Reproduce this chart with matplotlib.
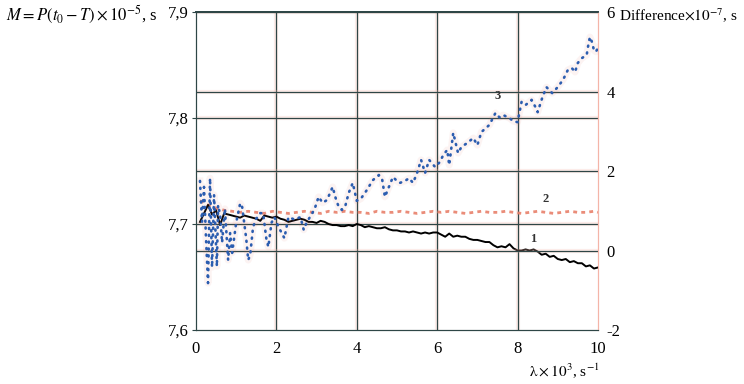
import matplotlib.pyplot as plt

plt.rcParams['font.family'] = ['Liberation Serif', 'DejaVu Serif']
plt.rcParams['mathtext.fontset'] = 'stix'

# Curve 1: M (left axis), black solid
x1 = [0.1, 0.2, 0.3, 0.4, 0.5, 0.6, 0.7, 0.8, 0.9, 1.0, 1.1, 1.2, 1.3, 1.4, 1.5,
      1.6, 1.7, 1.8, 1.9, 2.0, 2.1, 2.2, 2.3, 2.4, 2.5, 2.6, 2.7, 2.8, 2.9, 3.0,
      3.1, 3.2, 3.3, 3.4, 3.5, 3.6, 3.7, 3.8, 3.9, 4.0, 4.1, 4.2, 4.3, 4.4, 4.5,
      4.6, 4.7, 4.8, 4.9, 5.0, 5.1, 5.2, 5.3, 5.4, 5.5, 5.6, 5.7, 5.8, 5.9, 6.0,
      6.1, 6.2, 6.3, 6.4, 6.5, 6.6, 6.7, 6.8, 6.9, 7.0, 7.1, 7.2, 7.3, 7.4, 7.5,
      7.6, 7.7, 7.8, 7.9, 8.0, 8.1, 8.2, 8.3, 8.4, 8.5, 8.6, 8.7, 8.8, 8.9, 9.0,
      9.1, 9.2, 9.3, 9.4, 9.5, 9.6, 9.7, 9.8, 9.9, 10.0]
y1 = [7.702, 7.710, 7.718, 7.709, 7.713, 7.699, 7.710, 7.709, 7.708, 7.707,
      7.706, 7.708, 7.707, 7.706, 7.705, 7.703, 7.708, 7.707, 7.706, 7.707,
      7.705, 7.704, 7.702, 7.703, 7.704, 7.705, 7.704, 7.702, 7.702, 7.701,
      7.703, 7.702, 7.700, 7.699, 7.699, 7.698, 7.698, 7.699, 7.698, 7.700,
      7.699, 7.697, 7.698, 7.697, 7.696, 7.696, 7.697, 7.695, 7.694, 7.694,
      7.693, 7.693, 7.692, 7.693, 7.692, 7.691, 7.692, 7.691, 7.692, 7.692,
      7.690, 7.688, 7.691, 7.688, 7.689, 7.688, 7.688, 7.686, 7.685, 7.685,
      7.684, 7.683, 7.683, 7.680, 7.678, 7.679, 7.678, 7.681, 7.677, 7.675,
      7.675, 7.676, 7.675, 7.676, 7.674, 7.671, 7.672, 7.669, 7.670, 7.667,
      7.666, 7.667, 7.664, 7.665, 7.663, 7.663, 7.660, 7.661, 7.658, 7.659]

# Curve 2: M (left axis), red dashed
x2 = [0.1, 0.3, 0.5, 0.7, 0.9, 1.1, 1.3, 1.5, 1.7, 1.9, 2.1, 2.3, 2.5, 2.7, 2.9,
      3.1, 3.3, 3.5, 3.7, 3.9, 4.1, 4.3, 4.5, 4.7, 4.9, 5.1, 5.3, 5.5, 5.7, 5.9,
      6.1, 6.3, 6.5, 6.7, 6.9, 7.1, 7.3, 7.5, 7.7, 7.9, 8.1, 8.3, 8.5, 8.7, 8.9,
      9.1, 9.3, 9.5, 9.7, 9.9, 10.0]
y2 = [7.722, 7.718, 7.715, 7.713, 7.712, 7.711, 7.712, 7.711, 7.710, 7.712,
      7.711, 7.710, 7.711, 7.712, 7.711, 7.710, 7.712, 7.711, 7.712, 7.711,
      7.711, 7.710, 7.712, 7.711, 7.711, 7.712, 7.711, 7.710, 7.711, 7.712,
      7.711, 7.712, 7.711, 7.710, 7.711, 7.712, 7.711, 7.711, 7.712, 7.711,
      7.710, 7.711, 7.712, 7.711, 7.710, 7.711, 7.712, 7.711, 7.711, 7.712, 7.711]

# Curve 3: difference (right axis), blue dotted
x3 = [0.10, 0.15, 0.20, 0.25, 0.30, 0.35, 0.40, 0.45, 0.52, 0.55, 0.60, 0.65,
      0.72, 0.80, 0.85, 0.90, 1.00, 1.10, 1.15, 1.25, 1.30, 1.35, 1.42, 1.50,
      1.60, 1.67, 1.75, 1.80, 1.88, 1.95, 2.05, 2.20, 2.30, 2.45, 2.60, 2.68,
      2.75, 2.90, 2.96, 3.05, 3.15, 3.26, 3.40, 3.48, 3.55, 3.63, 3.72, 3.80,
      3.90, 4.00, 4.10, 4.25, 4.40, 4.55, 4.63, 4.70, 4.80, 4.90, 5.00, 5.07,
      5.20, 5.30, 5.40, 5.50, 5.60, 5.70, 5.80, 5.95, 6.07, 6.15, 6.25, 6.30,
      6.40, 6.52, 6.60, 6.74, 6.90, 7.00, 7.10, 7.30, 7.45, 7.55, 7.64, 7.80,
      7.90, 8.00, 8.10, 8.20, 8.35, 8.45, 8.50, 8.62, 8.72, 8.86, 8.98, 9.13,
      9.25, 9.35, 9.43, 9.50, 9.60, 9.72, 9.76, 9.80, 9.85, 9.90, 9.95, 10.0]
y3 = [1.75, 0.72, 1.60, 0.30, -0.82, 1.82, -0.42, 1.40, -0.40, 1.14, 0.90, 0.20,
      1.05, -0.24, 0.44, -0.06, 0.70, 1.19, 1.09, 0.30, -0.24, -0.10, 0.59, 0.80,
      0.94, 0.94, 0.30, 0.09, 0.70, 0.84, 0.60, 0.31, 0.84, 0.78, 0.84, 0.52,
      0.70, 0.95, 1.07, 1.35, 1.20, 1.27, 1.60, 1.30, 1.10, 1.02, 1.14, 1.45,
      1.70, 1.25, 1.30, 1.52, 1.77, 1.90, 1.80, 1.35, 1.60, 1.85, 1.75, 1.70,
      1.75, 1.82, 1.70, 1.95, 2.28, 1.95, 2.28, 2.10, 2.23, 2.40, 2.53, 2.15,
      2.96, 2.45, 2.60, 2.70, 2.83, 2.65, 2.98, 3.16, 3.46, 3.35, 3.41, 3.33,
      3.25, 3.23, 3.74, 3.66, 3.79, 3.60, 3.48, 3.86, 4.11, 3.96, 4.09, 4.29,
      4.54, 4.59, 4.49, 4.72, 4.84, 4.92, 5.17, 5.37, 5.25, 5.04, 5.00, 5.10]

left_ticks = [7.6, 7.7, 7.8, 7.9]
right_ticks = [-2, 0, 2, 4, 6]
x_ticks = [0, 2, 4, 6, 8, 10]

dark = '#2e4646'
pink = '#f4b4a8'

fig = plt.figure(figsize=(7.44, 3.84), dpi=100)
ax = fig.add_axes([0.2634, 0.1406, 0.5403, 0.8281])
ax2 = ax.twinx()

ax.set_xlim(0, 10)
ax.set_ylim(7.6, 7.9)
ax2.set_ylim(-2, 6)

# grid: dark lines with a faint reddish halo
for v in x_ticks[1:-1]:
    ax.axvline(v, color=pink, lw=3.0, alpha=0.25, zorder=0)
    ax.axvline(v, color=dark, lw=0.9, zorder=1)
for v in left_ticks[1:]:
    ax.axhline(v, color=pink, lw=3.0, alpha=0.25, zorder=0)
    ax.axhline(v, color=dark, lw=0.9, zorder=1)
for v in [0, 2, 4]:
    ax2.axhline(v, color=pink, lw=3.0, alpha=0.25, zorder=0)
    ax2.axhline(v, color=dark, lw=0.9, zorder=1)

ax2.plot(x3, y3, color='#e07060', lw=5, alpha=0.08, zorder=2)
ax2.plot(x3, y3, color='#2b5db0', lw=1.9, linestyle=(0, (0.4, 2.2)),
         dash_capstyle='round', zorder=3)
ax.plot(x2, y2, color='#e8806a', lw=2.0, linestyle=(0, (1.4, 1.5)), alpha=0.9, zorder=3)
ax.plot(x1, y1, color='black', lw=1.4, zorder=4)

ax.text(8.38, 7.683, '1', fontsize=9, fontweight='bold', color='#333333', ha='center')
ax.text(8.71, 7.721, '2', fontsize=9, fontweight='bold', color='#333333', ha='center')
ax2.text(7.51, 3.80, '3', fontsize=9, fontweight='bold', color='#333333', ha='center')

ax.set_xticks(x_ticks)
ax.set_xticklabels([str(t) for t in x_ticks])
ax.set_yticks(left_ticks)
ax.set_yticklabels([str(t).replace('.', ',') for t in left_ticks])
ax2.set_yticks(right_ticks)
ax2.set_yticklabels([str(t) for t in right_ticks])

ax.tick_params(axis='x', length=0, labelsize=12, pad=8)
ax.tick_params(axis='y', length=3, labelsize=12, color=dark, pad=2)
ax2.tick_params(axis='y', length=0, labelsize=12, pad=6)

for a in (ax, ax2):
    a.spines['left'].set_color(dark)
    a.spines['bottom'].set_color(dark)
    a.spines['top'].set_color(dark)
    a.spines['right'].set_color(pink)
    a.spines['top'].set_linewidth(1.3)

fig.text(0.008, 0.945, r'$M=P(t_0-T)\times10^{-5}$, s', fontsize=12, ha='left')
fig.text(0.832, 0.945, r'Difference$\times10^{-7}$, s', fontsize=11, ha='left')
fig.text(0.806, 0.02, r'$\mathrm{\lambda\times10^3}$, s$^{-1}$', fontsize=11, ha='right')

fig.savefig('out.png', dpi=100)
